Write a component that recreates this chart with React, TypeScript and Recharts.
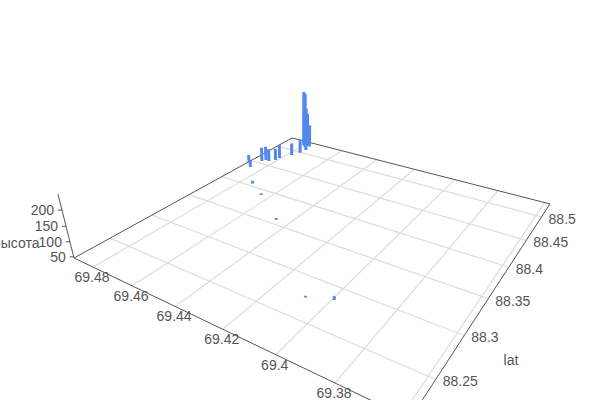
import { ScatterChart, Scatter, XAxis, YAxis, ReferenceLine, ReferenceDot } from 'recharts'

// readings from the picture: each bar is lon, lat, height
const lons = [69.49, 69.4861, 69.4857, 69.4848, 69.4829, 69.4809, 69.4807, 69.4778, 69.476, 69.48, 69.478, 69.4754, 69.4777, 69.4764, 69.4742, 69.4642, 69.446, 69.4078, 69.3993]
const lats = [88.4448, 88.436, 88.4557, 88.4604, 88.4601, 88.4664, 88.4735, 88.488, 88.499, 88.52, 88.516, 88.509, 88.52, 88.52, 88.405, 88.3895, 88.3577, 88.2745, 88.2841]
const heights = [76, 72, 100, 100, 94, 92, 100, 94, 100, 262, 262, 215, 180, 135, 57, 52, 52, 52, 58]

const lonTicks = [69.48, 69.46, 69.44, 69.42, 69.4, 69.38, 69.36]
const latTicks = [88.25, 88.3, 88.35, 88.4, 88.45, 88.5]
const heightTicks = [50, 100, 150, 200]

const lonMax = 69.4905
const lonMin = 69.3578
const latMin = 88.212
const latMax = 88.5306
const heightMin = 46
const heightMax = 248

// perspective of the 3D box, worked out from the floor corners
function project(lon: number, lat: number, height: number) {
  const s = (lonMax - lon) / (lonMax - lonMin)
  const t = (lat - latMin) / (latMax - latMin)
  const w = -0.2992 * s + 0.4647 * t + 1
  const fx = (213.3 * s + 353.7 * t + 74) / w
  const fy = (35.6 * s - 55.9 * t + 258) / w
  const k = (-0.0661 * (height - heightMin)) / (heightMax - heightMin) / w
  return { x: (fx + k * 300) / (1 + k), y: (fy + k * 1160) / (1 + k) }
}

const axisColor = '#555'
const gridColor = '#dcdcdc'
const labelColor = '#555'
const barColor = '#5288ec'
const font = 'Arial, "Liberation Sans", sans-serif'

const segment = (a: number[], b: number[]) => [project(a[0], a[1], a[2]), project(b[0], b[1], b[2])]

function Label3D({ viewBox, text, dx = 0, dy = 0, anchor = 'middle' }: any) {
  return (
    <text x={viewBox.x + dx} y={viewBox.y + dy} textAnchor={anchor} dominantBaseline="central" fontSize={14} fontFamily={font} fill={labelColor}>
      {text}
    </text>
  )
}

export default function App() {
  return (
    <div style={{ position: 'absolute', left: 0, top: 0, width: 600, height: 400 }}>
      <ScatterChart width={600} height={400} margin={{ top: 0, right: 0, bottom: 0, left: 0 }}>
        <XAxis type="number" dataKey="x" domain={[0, 600]} hide />
        <YAxis type="number" dataKey="y" domain={[0, 400]} reversed hide />

        {lonTicks.map((v) => (
          <ReferenceLine key={v} segment={segment([v, latMin, heightMin], [v, latMax, heightMin])} stroke={gridColor} strokeWidth={1.2} ifOverflow="visible" />
        ))}
        {latTicks.map((v) => (
          <ReferenceLine key={v} segment={segment([lonMax, v, heightMin], [lonMin, v, heightMin])} stroke={gridColor} strokeWidth={1.2} ifOverflow="visible" />
        ))}

        <ReferenceLine segment={segment([lonMax, latMin, heightMin], [lonMin, latMin, heightMin])} stroke={axisColor} ifOverflow="visible" />
        <ReferenceLine segment={segment([lonMin, latMin, heightMin], [lonMin, latMax, heightMin])} stroke={axisColor} ifOverflow="visible" />
        <ReferenceLine segment={segment([lonMin, latMax, heightMin], [lonMax, latMax, heightMin])} stroke={axisColor} ifOverflow="visible" />
        <ReferenceLine segment={segment([lonMax, latMax, heightMin], [lonMax, latMin, heightMin])} stroke={axisColor} ifOverflow="visible" />
        <ReferenceLine segment={segment([lonMax, latMin, heightMin], [lonMax, latMin, heightMax])} stroke={axisColor} ifOverflow="visible" />

        {heightTicks.map((v) => {
          const p = project(lonMax, latMin, v)
          return (
            <ReferenceLine key={v} segment={[p, { x: p.x - 4, y: p.y }]} stroke={axisColor} ifOverflow="visible" />
          )
        })}

        {lats.map((lat, i) => (
          <Scatter
            key={i}
            data={segment([lons[i], lat, heightMin], [lons[i], lat, heights[i]])}
            line={{ stroke: barColor, strokeWidth: 3 }}
            shape={() => <g />}
            isAnimationActive={false}
          />
        ))}

        {lonTicks.slice(0, 6).map((v) => {
          const p = project(v, latMin, heightMin)
          return (
            <ReferenceDot key={v} x={p.x} y={p.y} r={0} fill="none" stroke="none" ifOverflow="visible" label={<Label3D text={String(v)} dx={-1} dy={10} />} />
          )
        })}
        {latTicks.map((v) => {
          const p = project(lonMin, v, heightMin)
          return (
            <ReferenceDot key={v} x={p.x} y={p.y} r={0} fill="none" stroke="none" ifOverflow="visible" label={<Label3D text={String(v)} dx={7} dy={2} anchor="start" />} />
          )
        })}
        {heightTicks.map((v) => {
          const p = project(lonMax, latMin, v)
          return (
            <ReferenceDot key={v} x={p.x} y={p.y} r={0} fill="none" stroke="none" ifOverflow="visible" label={<Label3D text={String(v)} dx={-8} dy={0} anchor="end" />} />
          )
        })}
        <ReferenceDot x={39.5} y={243} r={0} fill="none" stroke="none" ifOverflow="visible" label={<Label3D text="высота" anchor="end" />} />
        <ReferenceDot x={511} y={360} r={0} fill="none" stroke="none" ifOverflow="visible" label={<Label3D text="lat" />} />
      </ScatterChart>
    </div>
  )
}
